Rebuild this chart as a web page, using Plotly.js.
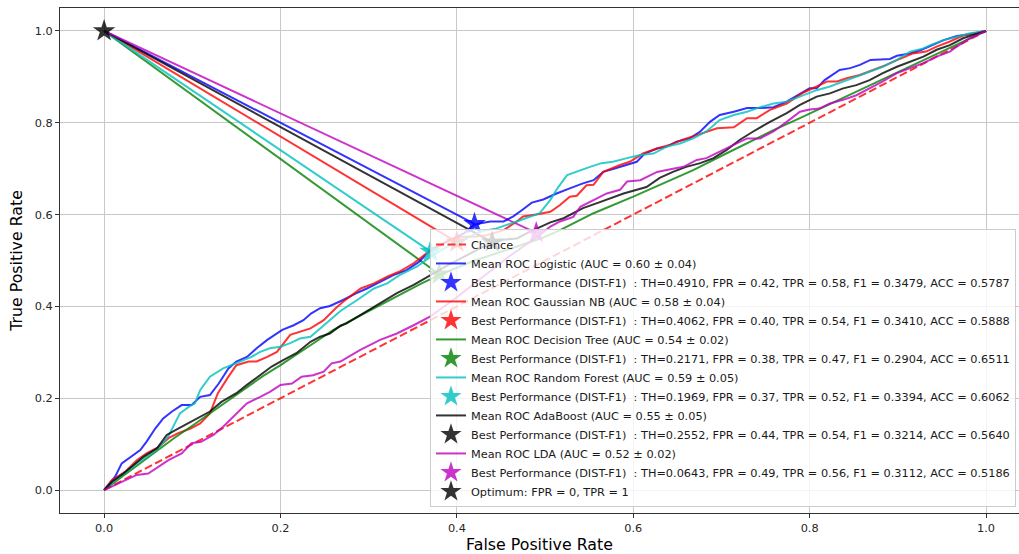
<!DOCTYPE html>
<html>
<head>
<meta charset="utf-8">
<script src="https://cdn.plot.ly/plotly-3.0.1.min.js"></script>
<style>html,body{margin:0;padding:0;background:#fff}#chart{width:1019px;height:554px}</style>
</head>
<body>
<div id="chart"></div>
<script>
// ---- data ----
var logisticFpr = [0,0.0125,0.02,0.031,0.041,0.048,0.058,0.067,0.077,0.088,0.099,0.109,0.12,0.13,0.141,0.15,0.162,0.173,0.185,0.202,0.215,0.226,0.235,0.245,0.256,0.271,0.285,0.298,0.313,0.328,0.343,0.357,0.37,0.381,0.396,0.408,0.419,0.424,0.438,0.453,0.464,0.474,0.485,0.498,0.513,0.528,0.543,0.555,0.566,0.578,0.593,0.604,0.613,0.627,0.638,0.649,0.664,0.676,0.687,0.698,0.714,0.729,0.744,0.759,0.774,0.789,0.8,0.808,0.817,0.834,0.846,0.857,0.869,0.88,0.891,0.899,0.914,0.927,0.937,0.952,0.967,0.982,1];
var logisticTpr = [0,0.029,0.058,0.073,0.087,0.105,0.134,0.156,0.171,0.185,0.185,0.203,0.207,0.232,0.265,0.28,0.29,0.309,0.327,0.349,0.359,0.37,0.385,0.396,0.401,0.414,0.428,0.439,0.454,0.468,0.479,0.497,0.523,0.534,0.548,0.559,0.577,0.58,0.585,0.585,0.596,0.61,0.626,0.633,0.646,0.657,0.668,0.675,0.693,0.7,0.708,0.715,0.733,0.744,0.748,0.759,0.766,0.781,0.802,0.817,0.824,0.832,0.832,0.834,0.846,0.863,0.875,0.875,0.893,0.915,0.919,0.926,0.937,0.938,0.939,0.946,0.951,0.959,0.967,0.98,0.989,0.993,1];

var nbFpr = [0,0.009,0.024,0.037,0.048,0.062,0.073,0.084,0.098,0.109,0.12,0.129,0.141,0.15,0.164,0.173,0.185,0.196,0.211,0.222,0.234,0.249,0.262,0.271,0.291,0.306,0.321,0.335,0.351,0.366,0.38,0.392,0.404,0.419,0.434,0.453,0.468,0.475,0.49,0.506,0.517,0.528,0.536,0.547,0.555,0.566,0.585,0.596,0.611,0.627,0.642,0.656,0.672,0.695,0.714,0.729,0.74,0.755,0.774,0.793,0.808,0.82,0.831,0.842,0.857,0.872,0.887,0.902,0.917,0.932,0.944,0.959,0.974,1];
var nbTpr = [0,0.022,0.04,0.065,0.08,0.094,0.113,0.124,0.134,0.145,0.167,0.211,0.247,0.272,0.28,0.28,0.29,0.301,0.338,0.345,0.352,0.37,0.395,0.41,0.439,0.45,0.465,0.476,0.494,0.516,0.532,0.545,0.552,0.552,0.555,0.566,0.585,0.596,0.6,0.606,0.621,0.639,0.641,0.664,0.665,0.693,0.708,0.715,0.733,0.744,0.752,0.763,0.773,0.788,0.79,0.81,0.81,0.828,0.842,0.866,0.879,0.89,0.89,0.897,0.904,0.915,0.926,0.939,0.951,0.955,0.966,0.977,0.99,1];

var treeFpr = [0,0.02,0.04,0.06,0.08,0.1,0.12,0.14,0.16,0.18,0.2,0.22,0.24,0.26,0.28,0.3,0.32,0.34,0.36,0.38,0.42,0.46,0.498,0.517,0.555,0.6,0.642,0.668,0.698,0.729,0.759,0.789,0.85,0.9,0.95,1];
var treeTpr = [0,0.028,0.057,0.086,0.114,0.14,0.167,0.195,0.222,0.248,0.272,0.297,0.323,0.349,0.37,0.39,0.41,0.43,0.45,0.468,0.5,0.525,0.55,0.566,0.603,0.639,0.675,0.697,0.726,0.755,0.784,0.81,0.865,0.91,0.955,1];

var forestFpr = [0,0.01,0.024,0.037,0.05,0.062,0.073,0.086,0.096,0.103,0.109,0.12,0.135,0.15,0.166,0.177,0.188,0.2,0.211,0.222,0.234,0.245,0.256,0.268,0.287,0.306,0.321,0.335,0.355,0.37,0.389,0.408,0.426,0.445,0.468,0.494,0.506,0.515,0.525,0.54,0.551,0.564,0.577,0.593,0.608,0.623,0.638,0.653,0.668,0.683,0.698,0.714,0.729,0.744,0.759,0.774,0.793,0.808,0.823,0.838,0.853,0.868,0.883,0.899,0.914,0.929,0.937,0.952,0.967,0.982,1];
var forestTpr = [0,0.018,0.038,0.058,0.075,0.092,0.118,0.167,0.181,0.189,0.218,0.247,0.265,0.276,0.289,0.301,0.309,0.312,0.32,0.33,0.334,0.352,0.37,0.39,0.414,0.439,0.45,0.468,0.487,0.508,0.53,0.545,0.563,0.57,0.585,0.603,0.632,0.66,0.686,0.697,0.704,0.712,0.715,0.723,0.73,0.733,0.748,0.755,0.766,0.781,0.806,0.817,0.824,0.834,0.842,0.846,0.86,0.871,0.879,0.89,0.9,0.911,0.922,0.937,0.955,0.962,0.969,0.98,0.987,0.995,1];

var adaFpr = [0,0.009,0.022,0.033,0.045,0.06,0.071,0.084,0.098,0.109,0.12,0.133,0.15,0.162,0.177,0.19,0.203,0.218,0.234,0.245,0.256,0.268,0.275,0.294,0.313,0.332,0.351,0.37,0.39,0.41,0.43,0.452,0.468,0.483,0.506,0.521,0.543,0.559,0.574,0.589,0.615,0.63,0.645,0.66,0.676,0.691,0.706,0.721,0.736,0.755,0.774,0.789,0.808,0.823,0.838,0.853,0.868,0.883,0.899,0.914,0.929,0.944,0.959,0.974,1];
var adaTpr = [0,0.018,0.036,0.054,0.073,0.091,0.12,0.134,0.149,0.16,0.171,0.192,0.211,0.229,0.251,0.269,0.283,0.298,0.323,0.334,0.341,0.358,0.363,0.385,0.407,0.429,0.447,0.468,0.49,0.51,0.53,0.545,0.548,0.563,0.583,0.592,0.614,0.625,0.636,0.646,0.66,0.68,0.693,0.704,0.712,0.723,0.741,0.763,0.781,0.802,0.821,0.839,0.857,0.864,0.875,0.882,0.893,0.908,0.922,0.933,0.944,0.959,0.969,0.984,1];

var ldaFpr = [0,0.0125,0.026,0.037,0.05,0.062,0.073,0.088,0.099,0.11,0.124,0.135,0.147,0.162,0.177,0.188,0.2,0.213,0.224,0.237,0.249,0.258,0.268,0.29,0.313,0.332,0.351,0.37,0.4,0.43,0.46,0.494,0.506,0.517,0.532,0.54,0.555,0.57,0.585,0.593,0.608,0.627,0.645,0.657,0.672,0.683,0.698,0.714,0.729,0.744,0.759,0.774,0.789,0.8,0.811,0.823,0.838,0.853,0.868,0.883,0.899,0.914,0.929,0.944,0.959,0.967,0.978,1];
var ldaTpr = [0,0.011,0.022,0.033,0.036,0.051,0.065,0.08,0.102,0.105,0.12,0.138,0.16,0.189,0.203,0.214,0.229,0.232,0.247,0.25,0.258,0.276,0.28,0.305,0.327,0.341,0.359,0.378,0.42,0.465,0.51,0.555,0.574,0.585,0.595,0.617,0.632,0.646,0.654,0.672,0.675,0.693,0.7,0.704,0.719,0.723,0.737,0.752,0.766,0.766,0.781,0.802,0.824,0.829,0.831,0.842,0.85,0.86,0.875,0.89,0.908,0.919,0.93,0.944,0.955,0.966,0.98,1];

var chanceFpr = [0, 1];
var chanceTpr = [0, 1];

var modelNames = ["Logistic", "Gaussian NB", "Decision Tree", "Random Forest", "AdaBoost", "LDA"];
var aucMean = ["0.60", "0.58", "0.54", "0.59", "0.55", "0.52"];
var aucStd = ["0.04", "0.04", "0.02", "0.05", "0.05", "0.02"];
var bestTh = ["0.4910", "0.4062", "0.2171", "0.1969", "0.2552", "0.0643"];
var bestFpr = [0.42, 0.40, 0.38, 0.37, 0.44, 0.49];
var bestTpr = [0.58, 0.54, 0.47, 0.52, 0.54, 0.56];
var bestF1 = ["0.3479", "0.3410", "0.2904", "0.3394", "0.3214", "0.3112"];
var bestAcc = ["0.5787", "0.5888", "0.6511", "0.6062", "0.5640", "0.5186"];
var optimumFpr = [0];
var optimumTpr = [1];

var curveFpr = [logisticFpr, nbFpr, treeFpr, forestFpr, adaFpr, ldaFpr];
var curveTpr = [logisticTpr, nbTpr, treeTpr, forestTpr, adaTpr, ldaTpr];

// ---- styles ----
var colors = ["rgba(0,0,255,0.8)", "rgba(255,0,0,0.8)", "rgba(0,128,0,0.8)", "rgba(0,191,191,0.8)", "rgba(0,0,0,0.8)", "rgba(191,0,191,0.8)"];
var FONT = "DejaVu Sans, Liberation Sans, sans-serif";

var traces = [];
for (var i = 0; i < modelNames.length; i++) {
  traces.push({
    x: [optimumFpr[0], bestFpr[i]], y: [optimumTpr[0], bestTpr[i]],
    mode: "lines", line: {color: colors[i], width: 2},
    showlegend: false, hoverinfo: "skip"
  });
}
traces.push({
  x: chanceFpr, y: chanceTpr, mode: "lines", name: "Chance",
  line: {color: "rgba(255,0,0,0.8)", width: 2, dash: "8px,3.5px"}
});
for (var j = 0; j < modelNames.length; j++) {
  traces.push({
    x: curveFpr[j], y: curveTpr[j], mode: "lines",
    name: "Mean ROC " + modelNames[j] + " (AUC = " + aucMean[j] + " \u00b1 " + aucStd[j] + ")",
    line: {color: colors[j], width: 2}
  });
  traces.push({
    x: [bestFpr[j]], y: [bestTpr[j]], mode: "markers",
    name: "Best Performance (DIST-F1)\u00a0 : TH=" + bestTh[j] + ", FPR = " + bestFpr[j].toFixed(2) +
          ", TPR = " + bestTpr[j].toFixed(2) + ", F1 = " + bestF1[j] + ", ACC = " + bestAcc[j],
    marker: {symbol: "star", size: 17, color: colors[j], line: {width: 0}}
  });
}
traces.push({
  x: optimumFpr, y: optimumTpr, mode: "markers", name: "Optimum: FPR = 0, TPR = 1",
  marker: {symbol: "star", size: 17, color: "rgba(0,0,0,0.8)", line: {width: 0}}
});

var axisCommon = {
  showgrid: true, gridcolor: "#c8c8c8", gridwidth: 1, zeroline: false,
  showline: true, linecolor: "#333", linewidth: 1,
  ticks: "outside", ticklen: 4, tickcolor: "#333", tickwidth: 1,
  tickfont: {family: FONT, size: 11.3, color: "#262626"},
  tickformat: ".1f"
};

var layout = {
  width: 1019, height: 554,
  margin: {l: 60, r: 0, t: 8, b: 41},
  paper_bgcolor: "#ffffff", plot_bgcolor: "#ffffff",
  font: {family: FONT},
  xaxis: Object.assign({}, axisCommon, {
    range: [-0.05, 1.0374], tickvals: [0, 0.2, 0.4, 0.6, 0.8, 1.0], mirror: true,
    title: {text: "False Positive Rate", font: {family: FONT, size: 15.8, color: "#000"}, standoff: 5}
  }),
  yaxis: Object.assign({}, axisCommon, {
    range: [-0.05, 1.05], tickvals: [0, 0.2, 0.4, 0.6, 0.8, 1.0], mirror: false,
    title: {text: "True Positive Rate", font: {family: FONT, size: 15.8, color: "#000"}, standoff: 8}
  }),
  showlegend: true,
  legend: {
    x: 0.3858, y: 0.012, xanchor: "left", yanchor: "bottom",
    bgcolor: "rgba(255,255,255,0.8)", bordercolor: "#cccccc", borderwidth: 1,
    font: {family: FONT, size: 11.3, color: "#1a1a1a"},
    tracegroupgap: 0
  }
};

Plotly.newPlot("chart", traces, layout, {displayModeBar: false, staticPlot: true});
</script>
</body>
</html>
